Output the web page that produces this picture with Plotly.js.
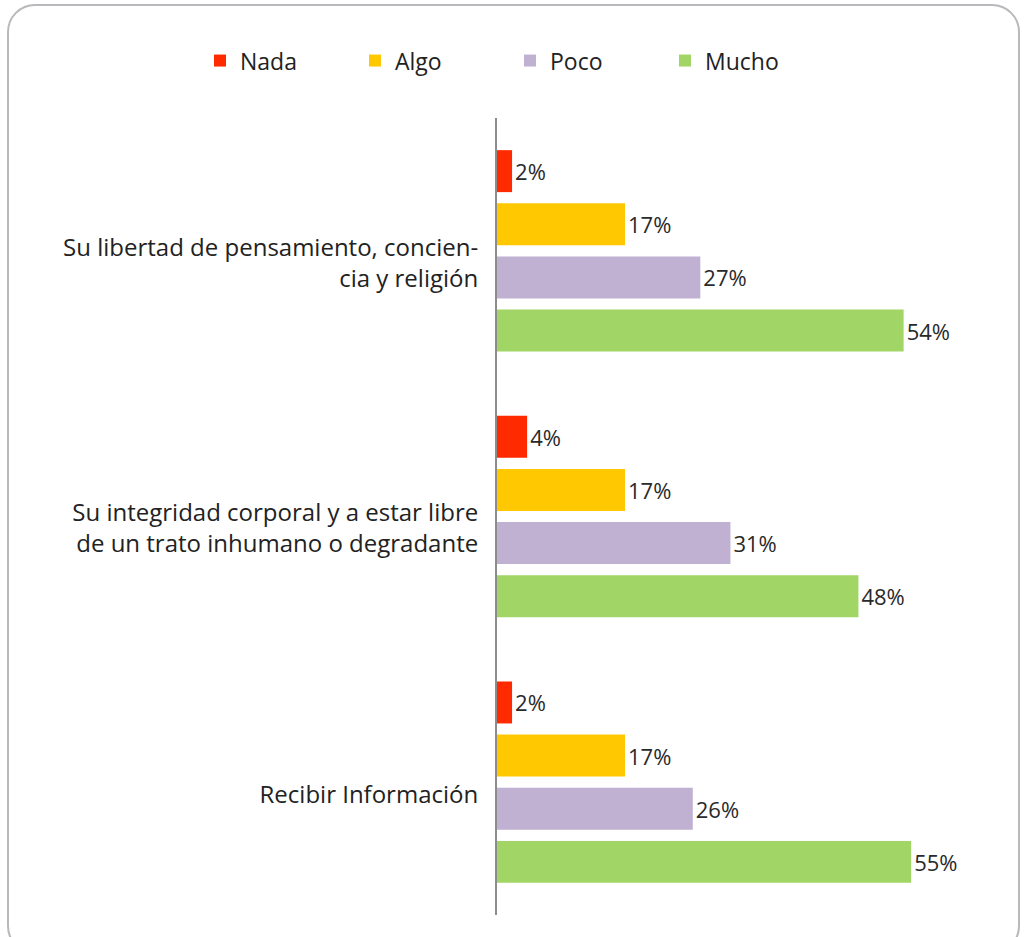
<!DOCTYPE html>
<html>
<head>
<meta charset="utf-8">
<script src="https://cdn.plot.ly/plotly-3.0.1.min.js"></script>
<style>
  html, body { margin: 0; padding: 0; background: #ffffff; overflow: hidden; }
  #frame { position: absolute; left: 7px; top: 4px; width: 1013px; height: 950px;
           border: 2.5px solid #b9b9bd; border-radius: 28px; box-sizing: border-box; }
  #chart { position: absolute; left: 0; top: 0; width: 1024px; height: 937px; }
</style>
</head>
<body>
<div id="frame"></div>
<div id="chart"></div>
<script>
const categories = [
  "Su libertad de pensamiento, concien-<br>cia y religión",
  "Su integridad corporal y a estar libre<br>de un trato inhumano o degradante",
  "Recibir Información"
];
const seriesNames = ["Nada", "Algo", "Poco", "Mucho"];
const nada  = [2, 4, 2];
const algo  = [17, 17, 17];
const poco  = [27, 31, 26];
const mucho = [54, 48, 55];
const colors = ["#ff2a00", "#ffc800", "#c0b1d2", "#a1d566"];

const values = [nada, algo, poco, mucho];
const traces = values.map((v, i) => ({
  type: "bar",
  orientation: "h",
  name: seriesNames[i],
  y: categories,
  x: v,
  marker: { color: colors[i] },
  text: v.map(n => n + "%"),
  textposition: "outside",
  cliponaxis: false,
  textfont: { size: 22, color: "#2a2a2a" },
  hoverinfo: "skip"
}));

const layout = {
  width: 1024,
  height: 937,
  paper_bgcolor: "rgba(0,0,0,0)",
  plot_bgcolor: "rgba(0,0,0,0)",
  font: { family: "Open Sans, Lato, sans-serif", color: "#222222" },
  margin: { l: 497, r: 24, t: 118, b: 22, autoexpand: false },
  barmode: "group",
  bargap: 0.2,
  bargroupgap: 0.21,
  showlegend: true,
  legend: {
    orientation: "h",
    xref: "paper", yref: "paper",
    x: -0.5905, xanchor: "left",
    y: 1.099, yanchor: "top",
    font: { size: 23, color: "#222222" },
    entrywidth: 110,
    traceorder: "normal"
  },
  xaxis: {
    range: [0, 66.8],
    showgrid: false, zeroline: false, showline: false,
    showticklabels: false, ticks: "", fixedrange: true, automargin: false
  },
  yaxis: {
    autorange: "reversed",
    showline: true, linecolor: "#8c8c8c", linewidth: 2,
    showgrid: false, zeroline: false,
    ticks: "", ticklabelstandoff: 12, ticklabelshift: -12,
    tickfont: { size: 24, color: "#222222" },
    fixedrange: true, automargin: false
  }
};

Plotly.newPlot("chart", traces, layout, { displayModeBar: false, staticPlot: true });
</script>
</body>
</html>
